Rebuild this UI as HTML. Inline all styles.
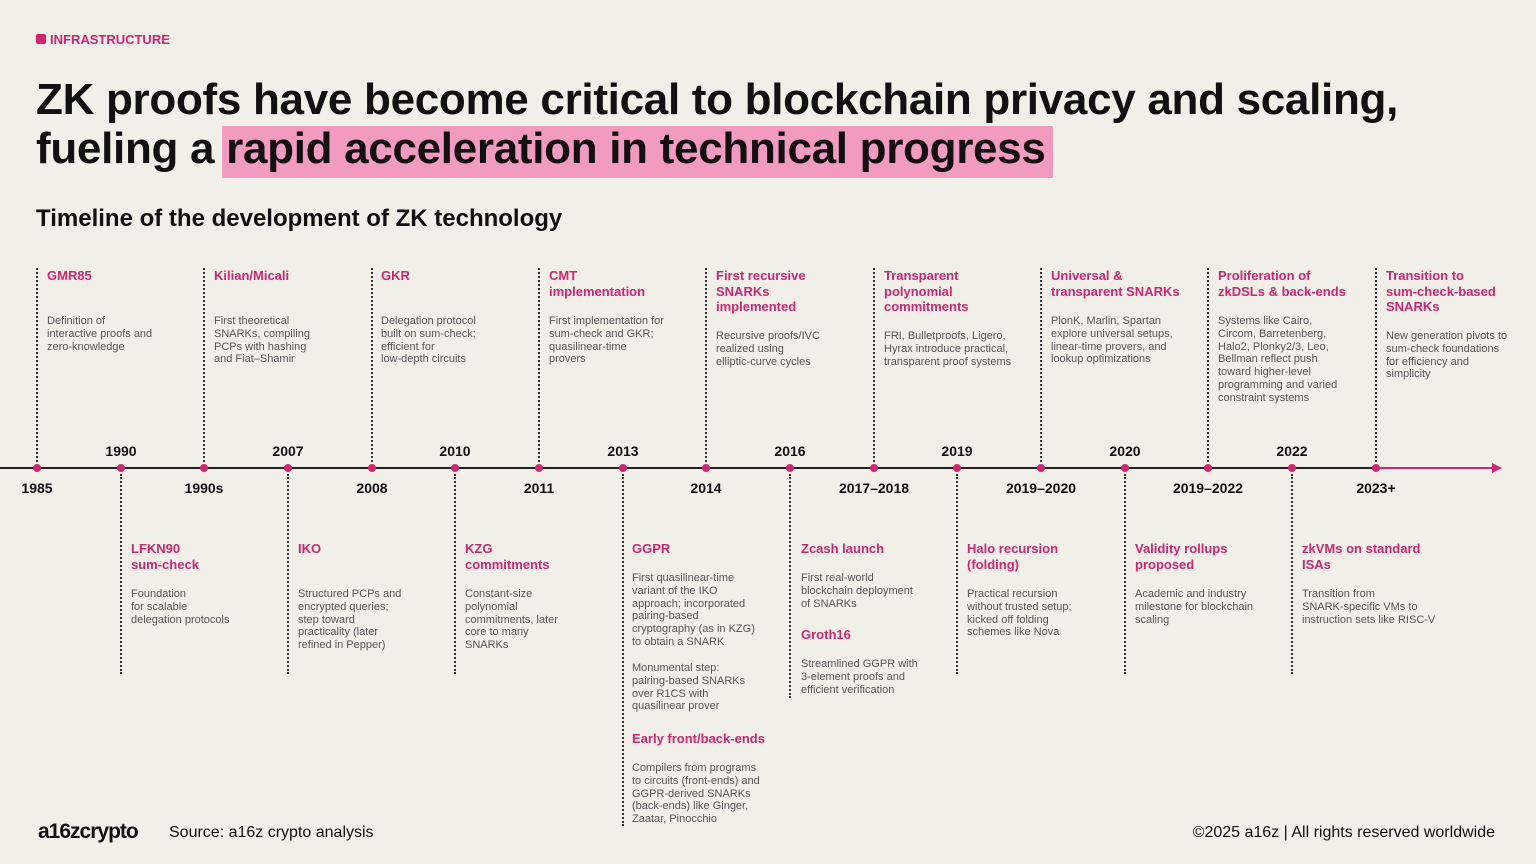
<!DOCTYPE html>
<html><head><meta charset="utf-8"><style>
body{margin:0;width:1536px;height:864px;background:#f0efe8;font-family:"Liberation Sans",sans-serif;position:relative;overflow:hidden;color:#111}
.a{position:absolute}
.t{position:absolute;font-size:13px;font-weight:bold;color:#d4236f;line-height:15.5px;width:150px}
.b{position:absolute;font-size:11px;color:#555;line-height:12.8px;width:155px}
.y{position:absolute;font-size:14px;font-weight:bold;width:80px;text-align:center;margin-left:-40px}
.v{position:absolute;border-left:2px dotted #333;width:0}
.d{position:absolute;width:8px;height:8px;border-radius:50%;background:#d4236f;margin-left:-4px;top:464px}
</style></head><body>
<div class="a" style="left:36px;top:34px;width:10px;height:10px;background:#d4236f;border-radius:2px"></div>
<div class="a" style="left:50px;top:32px;font-size:13px;font-weight:bold;color:#d4236f">INFRASTRUCTURE</div>
<div class="a" style="left:222px;top:126px;width:831px;height:52px;background:#f29ac0"></div>
<div class="a" style="left:36px;top:75px;font-size:44px;font-weight:bold;line-height:49px;letter-spacing:-0.3px">ZK proofs have become critical to blockchain privacy and scaling,<br>fueling a rapid acceleration in technical progress</div>
<div class="a" style="left:36px;top:205px;font-size:24px;font-weight:bold">Timeline of the development of ZK technology</div>
<div class="a" style="left:0;top:467px;width:1376px;height:2px;background:#222"></div>
<div class="a" style="left:1376px;top:467px;width:120px;height:2px;background:#d4236f"></div>
<div class="a" style="left:1492px;top:463px;border-left:10px solid #d4236f;border-top:5px solid transparent;border-bottom:5px solid transparent"></div>

<div class="v" style="left:36px;top:268px;height:194px"></div>
<div class="v" style="left:203px;top:268px;height:194px"></div>
<div class="v" style="left:371px;top:268px;height:194px"></div>
<div class="v" style="left:538px;top:268px;height:194px"></div>
<div class="v" style="left:705px;top:268px;height:194px"></div>
<div class="v" style="left:873px;top:268px;height:194px"></div>
<div class="v" style="left:1040px;top:268px;height:194px"></div>
<div class="v" style="left:1207px;top:268px;height:194px"></div>
<div class="v" style="left:1375px;top:268px;height:194px"></div>
<div class="v" style="left:120px;top:474px;height:200px"></div>
<div class="v" style="left:287px;top:474px;height:200px"></div>
<div class="v" style="left:454px;top:474px;height:200px"></div>
<div class="v" style="left:622px;top:474px;height:352px"></div>
<div class="v" style="left:789px;top:474px;height:224px"></div>
<div class="v" style="left:956px;top:474px;height:200px"></div>
<div class="v" style="left:1124px;top:474px;height:200px"></div>
<div class="v" style="left:1291px;top:474px;height:200px"></div>

<div class="d" style="left:37px"></div><div class="d" style="left:121px"></div><div class="d" style="left:204px"></div><div class="d" style="left:288px"></div><div class="d" style="left:372px"></div><div class="d" style="left:455px"></div><div class="d" style="left:539px"></div><div class="d" style="left:623px"></div><div class="d" style="left:706px"></div><div class="d" style="left:790px"></div><div class="d" style="left:874px"></div><div class="d" style="left:957px"></div><div class="d" style="left:1041px"></div><div class="d" style="left:1125px"></div><div class="d" style="left:1208px"></div><div class="d" style="left:1292px"></div><div class="d" style="left:1376px"></div>

<div class="y" style="left:37px;top:480px">1985</div>
<div class="y" style="left:204px;top:480px">1990s</div>
<div class="y" style="left:372px;top:480px">2008</div>
<div class="y" style="left:539px;top:480px">2011</div>
<div class="y" style="left:706px;top:480px">2014</div>
<div class="y" style="left:874px;top:480px">2017–2018</div>
<div class="y" style="left:1041px;top:480px">2019–2020</div>
<div class="y" style="left:1208px;top:480px">2019–2022</div>
<div class="y" style="left:1376px;top:480px">2023+</div>
<div class="y" style="left:121px;top:443px">1990</div>
<div class="y" style="left:288px;top:443px">2007</div>
<div class="y" style="left:455px;top:443px">2010</div>
<div class="y" style="left:623px;top:443px">2013</div>
<div class="y" style="left:790px;top:443px">2016</div>
<div class="y" style="left:957px;top:443px">2019</div>
<div class="y" style="left:1125px;top:443px">2020</div>
<div class="y" style="left:1292px;top:443px">2022</div>

<div class="t" style="left:47px;top:268px">GMR85</div>
<div class="b" style="left:47px;top:315px">Definition of<br>interactive proofs and<br>zero-knowledge</div>
<div class="t" style="left:214px;top:268px">Kilian/Micali</div>
<div class="b" style="left:214px;top:315px">First theoretical<br>SNARKs, compiling<br>PCPs with hashing<br>and Fiat–Shamir</div>
<div class="t" style="left:381px;top:268px">GKR</div>
<div class="b" style="left:381px;top:315px">Delegation protocol<br>built on sum-check;<br>efficient for<br>low-depth circuits</div>
<div class="t" style="left:549px;top:268px">CMT<br>implementation</div>
<div class="b" style="left:549px;top:315px">First implementation for<br>sum-check and GKR;<br>quasilinear-time<br>provers</div>
<div class="t" style="left:716px;top:268px">First recursive<br>SNARKs<br>implemented</div>
<div class="b" style="left:716px;top:330px">Recursive proofs/IVC<br>realized using<br>elliptic-curve cycles</div>
<div class="t" style="left:884px;top:268px">Transparent<br>polynomial<br>commitments</div>
<div class="b" style="left:884px;top:330px;width:160px">FRI, Bulletproofs, Ligero,<br>Hyrax introduce practical,<br>transparent proof systems</div>
<div class="t" style="left:1051px;top:268px">Universal &amp;<br>transparent SNARKs</div>
<div class="b" style="left:1051px;top:315px">PlonK, Marlin, Spartan<br>explore universal setups,<br>linear-time provers, and<br>lookup optimizations</div>
<div class="t" style="left:1218px;top:268px">Proliferation of<br>zkDSLs &amp; back-ends</div>
<div class="b" style="left:1218px;top:315px">Systems like Cairo,<br>Circom, Barretenberg,<br>Halo2, Plonky2/3, Leo,<br>Bellman reflect push<br>toward higher-level<br>programming and varied<br>constraint systems</div>
<div class="t" style="left:1386px;top:268px">Transition to<br>sum-check-based<br>SNARKs</div>
<div class="b" style="left:1386px;top:330px">New generation pivots to<br>sum-check foundations<br>for efficiency and<br>simplicity</div>

<div class="t" style="left:131px;top:541px">LFKN90<br>sum-check</div>
<div class="b" style="left:131px;top:588px">Foundation<br>for scalable<br>delegation protocols</div>
<div class="t" style="left:298px;top:541px">IKO</div>
<div class="b" style="left:298px;top:588px">Structured PCPs and<br>encrypted queries;<br>step toward<br>practicality (later<br>refined in Pepper)</div>
<div class="t" style="left:465px;top:541px">KZG<br>commitments</div>
<div class="b" style="left:465px;top:588px">Constant-size<br>polynomial<br>commitments, later<br>core to many<br>SNARKs</div>
<div class="t" style="left:632px;top:541px">GGPR</div>
<div class="b" style="left:632px;top:572px">First quasilinear-time<br>variant of the IKO<br>approach; incorporated<br>pairing-based<br>cryptography (as in KZG)<br>to obtain a SNARK</div>
<div class="b" style="left:632px;top:662px">Monumental step:<br>pairing-based SNARKs<br>over R1CS with<br>quasilinear prover</div>
<div class="t" style="left:632px;top:731px;width:170px">Early front/back-ends</div>
<div class="b" style="left:632px;top:762px;width:165px">Compilers from programs<br>to circuits (front-ends) and<br>GGPR-derived SNARKs<br>(back-ends) like Ginger,<br>Zaatar, Pinocchio</div>
<div class="t" style="left:801px;top:541px">Zcash launch</div>
<div class="b" style="left:801px;top:572px">First real-world<br>blockchain deployment<br>of SNARKs</div>
<div class="t" style="left:801px;top:627px">Groth16</div>
<div class="b" style="left:801px;top:658px">Streamlined GGPR with<br>3-element proofs and<br>efficient verification</div>
<div class="t" style="left:967px;top:541px">Halo recursion<br>(folding)</div>
<div class="b" style="left:967px;top:588px">Practical recursion<br>without trusted setup;<br>kicked off folding<br>schemes like Nova</div>
<div class="t" style="left:1135px;top:541px">Validity rollups<br>proposed</div>
<div class="b" style="left:1135px;top:588px">Academic and industry<br>milestone for blockchain<br>scaling</div>
<div class="t" style="left:1302px;top:541px">zkVMs on standard<br>ISAs</div>
<div class="b" style="left:1302px;top:588px;width:165px">Transition from<br>SNARK-specific VMs to<br>instruction sets like RISC-V</div>

<div class="a" style="left:38px;top:820px;font-size:21px;font-weight:bold;letter-spacing:-1px">a16zcrypto</div>
<div class="a" style="left:169px;top:824px;font-size:16px">Source: a16z crypto analysis</div>
<div class="a" style="right:41px;top:824px;font-size:16px">©2025 a16z | All rights reserved worldwide</div>
</body></html>
